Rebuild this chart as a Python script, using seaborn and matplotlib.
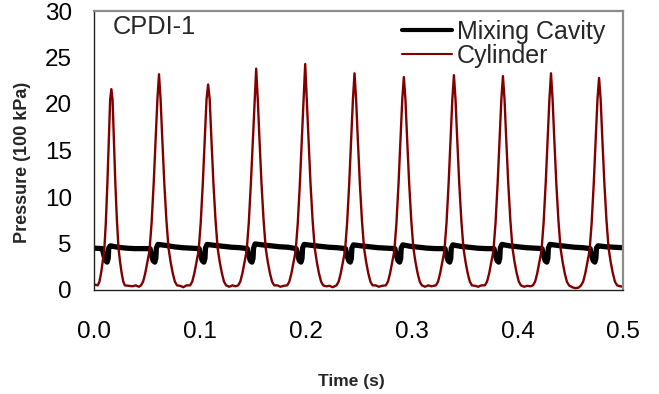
import matplotlib
matplotlib.use("Agg")
import matplotlib.pyplot as plt
import seaborn as sns
import pandas as pd

# ---- data ----
# Cylinder pressure pulses (time of peak [s], peak pressure [100 kPa])
peak_times = [0.0164, 0.0614, 0.1078, 0.1532, 0.1995, 0.2461, 0.2927, 0.3400, 0.3863, 0.4317, 0.4771]
peak_values = [21.6, 23.2, 22.1, 23.8, 24.3, 23.3, 22.9, 23.1, 23.0, 23.3, 22.8]
pulse_widths = [0.75, 1.0, 1.0, 1.0, 1.0, 1.0, 1.0, 1.0, 1.0, 1.0, 1.0]
# pulse flank read from one cycle (offset from peak [s], pressure); None = peak
pulse_offsets = [-0.017, -0.015, -0.013, -0.011, -0.009, -0.007, -0.005, -0.003, -0.0015, 0.0,
                 0.0015, 0.003, 0.005, 0.007, 0.009, 0.011, 0.013, 0.015, 0.017]
pulse_shape = [0.5, 0.9, 1.8, 3.0, 4.2, 7.2, 11.5, 16.5, 20.5, None,
               20.5, 16.5, 11.5, 7.5, 4.5, 3.0, 1.8, 0.9, 0.5]
# baseline between pulses
gap_offsets = [0.020, 0.023, 0.026]
gap_values = [[0.4, 0.5, 0.35], [0.45, 0.3, 0.5], [0.35, 0.5, 0.4], [0.5, 0.35, 0.45],
              [0.4, 0.45, 0.3], [0.5, 0.35, 0.45], [0.35, 0.5, 0.4], [0.45, 0.35, 0.5],
              [0.35, 0.45, 0.4], [0.3, 0.2, 0.25], [0.4, 0.35, 0.4]]
cyl_start = 0.6

# Mixing cavity: dip just before each cylinder peak, then slow decay
dip_offsets = [-0.0085, -0.007, -0.0055, -0.004, -0.003, -0.0025]
dip_shape = [4.45, 3.7, 3.15, 3.0, 3.4, 4.5]
level_offsets = [-0.001, 0.006, 0.014, 0.022, 0.030]
mix_levels = [[4.75, 4.6, 4.5, 4.45, 4.45], [4.9, 4.8, 4.65, 4.55, 4.5],
              [4.9, 4.8, 4.7, 4.6, 4.55], [4.95, 4.85, 4.75, 4.65, 4.6],
              [4.9, 4.8, 4.7, 4.6, 4.55], [4.85, 4.75, 4.65, 4.55, 4.5],
              [4.85, 4.7, 4.6, 4.5, 4.45], [4.85, 4.7, 4.6, 4.5, 4.45],
              [4.9, 4.75, 4.65, 4.55, 4.5], [4.9, 4.8, 4.7, 4.6, 4.55],
              [4.75, 4.65, 4.6, 4.55, 4.55]]
mix_start = 4.5

x_ticks = [0.0, 0.1, 0.2, 0.3, 0.4, 0.5]
y_ticks = [0, 5, 10, 15, 20, 25, 30]
series_names = ["Mixing Cavity", "Cylinder"]

# ---- assemble traces ----
cyl_t, cyl_p = [0.0], [cyl_start]
for tc, pk, w, gv in zip(peak_times, peak_values, pulse_widths, gap_values):
    for off, val in zip(pulse_offsets, pulse_shape):
        cyl_t.append(tc + off * w)
        cyl_p.append(pk if val is None else val)
    for off, val in zip(gap_offsets, gv):
        cyl_t.append(tc + off)
        cyl_p.append(val)

mix_t, mix_p = [0.0], [mix_start]
for tc, lv in zip(peak_times, mix_levels):
    for off, val in zip(dip_offsets, dip_shape):
        mix_t.append(tc + off)
        mix_p.append(val)
    for off, val in zip(level_offsets, lv):
        mix_t.append(tc + off)
        mix_p.append(val)

mix_df = pd.DataFrame({"t": mix_t, "p": mix_p})
cyl_df = pd.DataFrame({"t": cyl_t, "p": cyl_p})

# ---- plot ----
sns.set_theme(style="white")
plt.rcParams["font.family"] = ["Liberation Sans", "DejaVu Sans"]

fig = plt.figure(figsize=(6.59, 3.94), dpi=100)
ax = fig.add_axes([94 / 659, 1 - 290 / 394, (623.3 - 94) / 659, (290 - 11) / 394])

sns.lineplot(data=mix_df, x="t", y="p", ax=ax, color="black", linewidth=3.8,
             sort=False, estimator=None, label=series_names[0])
sns.lineplot(data=cyl_df, x="t", y="p", ax=ax, color="#800000", linewidth=1.7,
             sort=False, estimator=None, label=series_names[1])

ax.set_xlim(0, 0.5)
ax.set_ylim(0, 30)
ax.set_xticks(x_ticks)
ax.set_xticklabels([f"{v:.1f}" for v in x_ticks])
ax.set_yticks(y_ticks)
ax.set_yticklabels([str(v) for v in y_ticks])
ax.tick_params(axis="both", direction="out", length=6, width=1, colors="black",
               labelsize=17.5)
ax.tick_params(axis="x", pad=16, color="#555555")
ax.tick_params(axis="y", pad=10)

for side in ["left", "bottom"]:
    ax.spines[side].set_color("#222222")
    ax.spines[side].set_linewidth(1.0)
for side in ["top", "right"]:
    ax.spines[side].set_color("#8c8c8c")
    ax.spines[side].set_linewidth(1.6)

ax.set_xlabel("Time (s)", fontsize=12.5, fontweight="bold")
ax.xaxis.set_label_coords((351 - 94) / 529.3, (290 - 374) / 279)
ax.set_ylabel("Pressure (100 kPa)", fontsize=13, fontweight="bold")
ax.yaxis.set_label_coords((31 - 94) / 529.3, (290 - 162) / 279)

ax.text(0.036, 0.944, "CPDI-1", transform=ax.transAxes, fontsize=18.3,
        va="center", ha="left")

leg = ax.legend(loc="upper left", bbox_to_anchor=(0.582, 0.967), frameon=False,
                fontsize=18, handlelength=2.0, handletextpad=0.2,
                labelspacing=0.0, borderpad=0, borderaxespad=0)
for line, lw in zip(leg.get_lines(), [3.0, 1.5]):
    line.set_linewidth(lw)

fig.savefig("out.png", dpi=100)
